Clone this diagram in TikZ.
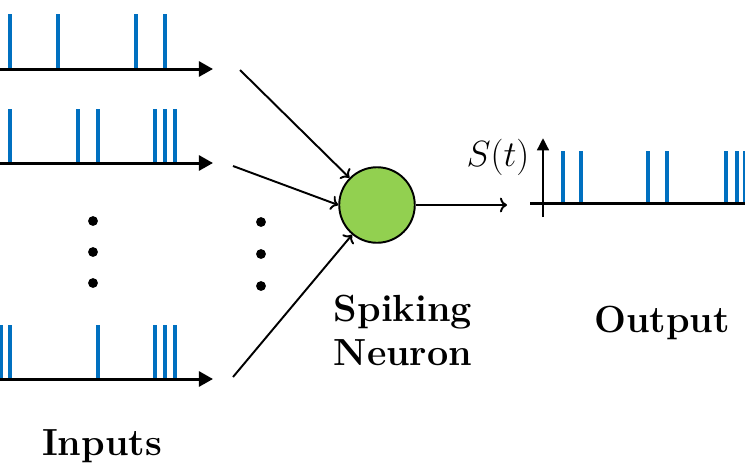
\documentclass[tikz,border=0pt]{standalone}
\usepackage{tikz}
\usetikzlibrary{arrows.meta, positioning}
\usepackage{amsmath}
\definecolor{spikeblue}{RGB}{0,112,192}
\definecolor{cellgreen}{RGB}{146,208,80}

\begin{document}
\begin{tikzpicture}[x=0.02cm, y=-0.02cm,
  spike/.style={draw=spikeblue, line width=2.3pt},
  axis/.style={line width=1.7pt, -{Triangle[length=8pt,width=8.5pt]}},
  link/.style={line width=1.1pt, ->},
  bigtext/.style={font=\fontsize{21.5}{25}\selectfont\bfseries, align=center}]
	\useasboundingbox (0,0) rectangle (745,468);

	% input spike trains
	\draw[spike] (10,14) -- (10,69) (58,14) -- (58,69) (136,14) -- (136,69) (165,14) -- (165,69);
	\draw[axis] (0,69) -- (213,69);

	\draw[spike] (10,109) -- (10,163) (78,109) -- (78,163) (98,109) -- (98,163)
	(155,109) -- (155,163) (165,109) -- (165,163) (175,109) -- (175,163);
	\draw[axis] (0,163) -- (213,163);

	\draw[spike] (1,325) -- (1,379) (10,325) -- (10,379) (98,325) -- (98,379)
	(155,325) -- (155,379) (165,325) -- (165,379) (175,325) -- (175,379);
	\draw[axis] (0,379) -- (213,379);

	\fill (93,221) circle[radius=2.8pt] (93,252) circle[radius=2.8pt] (93,283) circle[radius=2.8pt];
	\fill (261,222) circle[radius=2.8pt] (261,254) circle[radius=2.8pt] (261,286) circle[radius=2.8pt];

	\node[bigtext] (inputs) at (102,446) {Inputs};

	% neuron
	\node[circle, draw, line width=1.1pt, fill=cellgreen, minimum size=43pt] (neuron) at (377,205) {};
	\node[bigtext] (neuronname) at (403,330) {Spiking\\Neuron};

	\coordinate (in1) at (240,70);
	\coordinate (in2) at (233,166);
	\coordinate (in3) at (233,377);
	\coordinate (out) at (507,205);

	\draw[link] (in1) -- (neuron);
	\draw[link] (in2) -- (neuron.west);
	\draw[link] (in3) -- (neuron);
	\draw[link] (neuron) -- (out);

	% output spike train
	\draw[spike] (563,151) -- (563,203) (581,151) -- (581,203) (648,151) -- (648,203)
	(667,151) -- (667,203) (726,151) -- (726,203) (737,151) -- (737,203) (745,151) -- (745,203);
	\draw[line width=1.7pt] (530,203) -- (745,203);
	\draw[line width=1.7pt, -{Triangle[length=7pt,width=6.5pt]}] (543,217) -- (543,138);

	\node[font=\fontsize{21.5}{25}\selectfont] (signal) at (498,157) {$S(t)$};
	\node[bigtext] (output) at (662,323) {Output};
\end{tikzpicture}
\end{document}
